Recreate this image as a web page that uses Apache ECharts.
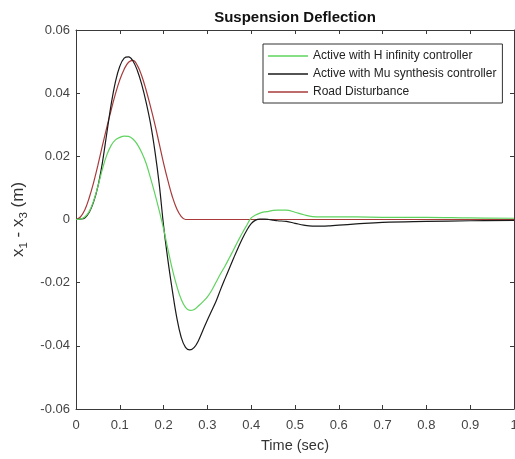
<!DOCTYPE html>
<html>
<head>
<meta charset="utf-8">
<script src="https://cdn.jsdelivr.net/npm/echarts@6/dist/echarts.min.js"></script>
<style>
  html, body { margin: 0; padding: 0; background: #fff; }
  #chart { width: 515px; height: 459px; }
</style>
</head>
<body>
<div id="chart"></div>
<script>
// Time samples (s) of the simulated response
const timeFine = [0, 0.01, 0.02, 0.03, 0.04, 0.05, 0.06, 0.07, 0.08, 0.09,
  0.10, 0.11, 0.12, 0.13, 0.14, 0.15, 0.16, 0.17, 0.18, 0.19,
  0.20, 0.21, 0.22, 0.23, 0.24, 0.25, 0.26, 0.27, 0.28, 0.29,
  0.30, 0.31, 0.32, 0.33, 0.34, 0.35, 0.36, 0.37, 0.38, 0.39,
  0.40, 0.41, 0.42, 0.43, 0.44, 0.45, 0.46, 0.48, 0.50, 0.52,
  0.54, 0.56, 0.58, 0.60, 0.64, 0.70, 0.80, 0.90, 1.00];

// Suspension deflection x1 - x3 (m), active H-infinity controller
const hinfValues = [0, 0.0001, 0.0008, 0.0025, 0.0058, 0.0105, 0.0158, 0.0203, 0.0234, 0.0252,
  0.026, 0.0264, 0.0263, 0.0255, 0.0238, 0.0212, 0.0178, 0.0132, 0.0082, 0.0028,
  -0.003, -0.0095, -0.0158, -0.021, -0.0252, -0.0278, -0.0288, -0.0285, -0.0273, -0.026,
  -0.0245, -0.0224, -0.0198, -0.0172, -0.0148, -0.0122, -0.0095, -0.0068, -0.0042, -0.0018,
  0.0005, 0.0014, 0.002, 0.0024, 0.0026, 0.0029, 0.003, 0.003, 0.0023, 0.0015,
  0.0009, 0.0008, 0.0008, 0.0008, 0.0008, 0.0007, 0.0007, 0.0005, 0.0004];

// Active mu-synthesis controller
const muValues = [0, 0.0001, 0.0005, 0.0022, 0.0055, 0.0105, 0.0178, 0.027, 0.0362, 0.0436,
  0.0485, 0.0511, 0.0515, 0.0502, 0.0472, 0.0428, 0.0372, 0.0305, 0.0218, 0.0112,
  -0.002, -0.013, -0.0225, -0.031, -0.0372, -0.0405, -0.0413, -0.0405, -0.0382, -0.035,
  -0.0318, -0.0288, -0.0258, -0.0222, -0.0188, -0.0155, -0.0122, -0.009, -0.006, -0.0034,
  -0.0013, -0.0002, 0.0001, 0.0001, 0, -0.0002, -0.0004, -0.0006, -0.0012, -0.0018,
  -0.0021, -0.0021, -0.002, -0.0018, -0.0014, -0.0009, -0.0006, -0.0004, -0.0003];

// Road bump profile
const roadValues = [0, 0.0008, 0.003, 0.0068, 0.0116, 0.0172, 0.0232, 0.029, 0.0345, 0.0398,
  0.0442, 0.0476, 0.0498, 0.0504, 0.0488, 0.0455, 0.041, 0.0358, 0.0302, 0.024,
  0.0178, 0.0122, 0.0072, 0.0034, 0.001, 0, 0, 0, 0, 0,
  0, 0, 0, 0, 0, 0, 0, 0, 0, 0,
  0, 0, 0, 0, 0, 0, 0, 0, 0, 0,
  0, 0, 0, 0, 0, 0, 0, 0, 0];

const seriesNames = ['Active with H infinity controller', 'Active with Mu synthesis controller', 'Road Disturbance'];
const seriesColors = ['#5fd35f', '#1a1a1a', '#a83a3a'];

const xTicks = { min: 0, max: 1, interval: 0.1 };
const yTicks = { min: -0.06, max: 0.06, interval: 0.02 };

const pairs = vals => timeFine.map((t, i) => [t, vals[i]]);
const FONT = 'Liberation Sans, Arial, Helvetica, sans-serif';
const AXIS = '#3a3a3a';

const chart = echarts.init(document.getElementById('chart'), null, { renderer: 'canvas' });

const axisCommon = {
  type: 'value',
  axisLine: { show: true, onZero: false, lineStyle: { color: AXIS, width: 1 } },
  axisTick: { show: true, inside: true, length: 4, lineStyle: { color: AXIS } },
  splitLine: { show: false }
};

chart.setOption({
  animation: false,
  backgroundColor: '#fff',
  title: {
    text: 'Suspension Deflection',
    left: 290, top: 5, textAlign: 'center',
    textStyle: { fontFamily: FONT, fontSize: 15, fontWeight: 'bold', color: '#111' }
  },
  grid: { left: 76, right: 1, top: 30, bottom: 50, containLabel: false, outerBoundsMode: 'none' },
  legend: {
    orient: 'vertical',
    left: 263, top: 44,
    padding: [5, 6, 4, 5],
    itemWidth: 40, itemHeight: 1.5, itemGap: 4,
    icon: 'rect',
    backgroundColor: '#fff',
    borderColor: '#333', borderWidth: 1,
    textStyle: { fontFamily: FONT, fontSize: 12, color: '#222', lineHeight: 14 },
    data: seriesNames
  },
  xAxis: [
    Object.assign({}, axisCommon, {
      position: 'bottom',
      min: xTicks.min, max: xTicks.max, interval: xTicks.interval,
      name: 'Time (sec)', nameLocation: 'middle', nameGap: 29,
      nameTextStyle: { fontFamily: FONT, fontSize: 14.5, color: '#333' },
      axisLabel: { margin: 10, fontFamily: FONT, fontSize: 13, color: '#444',
        alignMinLabel: 'center', alignMaxLabel: 'center',
        formatter: v => String(+v.toFixed(1)) }
    }),
    Object.assign({}, axisCommon, {
      position: 'top',
      min: xTicks.min, max: xTicks.max, interval: xTicks.interval,
      axisLabel: { show: false }
    })
  ],
  yAxis: [
    Object.assign({}, axisCommon, {
      position: 'left',
      min: yTicks.min, max: yTicks.max, interval: yTicks.interval,
      name: '{n|x}{s|1}{n| - x}{s|3}{n| (m)}',
      nameLocation: 'middle', nameRotate: 90, nameGap: 28,
      nameTextStyle: {
        fontFamily: FONT, color: '#333',
        rich: {
          n: { fontFamily: FONT, fontSize: 17, color: '#333', lineHeight: 22, verticalAlign: 'middle' },
          s: { fontFamily: FONT, fontSize: 11.5, color: '#333', lineHeight: 22, verticalAlign: 'bottom', padding: [7, 0, 0, 0] }
        }
      },
      axisLabel: { margin: 6, fontFamily: FONT, fontSize: 13, color: '#444',
        formatter: v => String(+v.toFixed(2)) }
    }),
    Object.assign({}, axisCommon, {
      position: 'right',
      min: yTicks.min, max: yTicks.max, interval: yTicks.interval,
      axisLabel: { show: false }
    })
  ],
  series: [hinfValues, muValues, roadValues].map((vals, i) => ({
    name: seriesNames[i],
    type: 'line',
    xAxisIndex: 0, yAxisIndex: 0,
    data: pairs(vals),
    showSymbol: false, symbol: 'none',
    smooth: 0.4,
    color: seriesColors[i],
    lineStyle: { color: seriesColors[i], width: 1.2 },
    z: 3 - i
  }))
});
</script>
</body>
</html>
